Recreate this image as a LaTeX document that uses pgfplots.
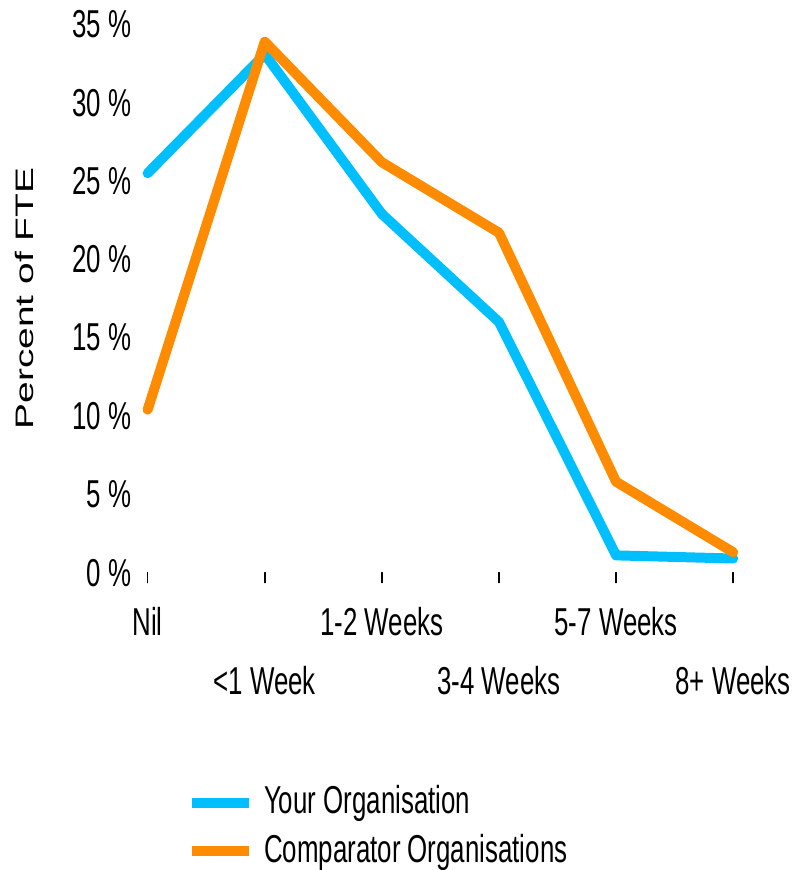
\documentclass[border=0pt]{standalone}
\usepackage{pgfplots}
\pgfplotsset{compat=1.18}
\usepackage{fontspec}
\setmainfont{Liberation Sans}[FakeStretch=0.665]
\newfontfamily\ylabfont{Liberation Sans}
\definecolor{yourorg}{RGB}{0,191,255}
\definecolor{comporg}{RGB}{255,140,0}
\begin{document}
\fontsize{39}{47}\selectfont
\begin{tikzpicture}
	\begin{axis}[
		name=ax,
		scale only axis,
		width=587pt, height=549.5pt,
		xmin=0, xmax=5, ymin=0, ymax=35,
		clip=false,
		axis line style={draw=none},
		xtick={0,2,4},
		xticklabels={Nil,1-2 Weeks,5-7 Weeks},
		extra x ticks={1,3,5},
		extra x tick labels={<1 Week,3-4 Weeks,8+ Weeks},
		extra x tick style={xticklabel style={yshift=-59pt}},
		xtick pos=bottom,
		tick align=outside,
		major tick length=10pt,
		x tick style={black, line width=1.5pt},
		xticklabel style={inner sep=0pt, anchor=north, yshift=-24.5pt},
		ytick={0,5,...,35},
		yticklabels={0 \%,5 \%,10 \%,15 \%,20 \%,25 \%,30 \%,35 \%},
		y tick style={draw=none},
		ytick pos=left,
		yticklabel style={inner sep=0pt, anchor=east, xshift=-6pt},
		ylabel={\scalebox{1}[0.65]{\ylabfont Percent of FTE}},
		ylabel style={at={(axis description cs:-0.2095,0.5)}, anchor=center},
		legend style={at={(rel axis cs:0,0)}, anchor=north west, xshift=39.5pt, yshift=-211.4pt,
			draw=none, fill=none, inner sep=0pt, row sep=10.3pt, column sep=8pt,
			nodes={inner sep=2pt, anchor=west}},
		legend cell align=left,
		legend image code/.code={\draw[#1, line width=10pt, line cap=butt] (0pt,0pt) -- (57pt,0pt);},
		line join=round,
		line cap=round,
	]
		\addplot[yourorg, line width=10pt] coordinates {(0,25.5) (1,33.1) (2,22.9) (3,16.0) (4,1.1) (5,0.9)};
		\addplot[comporg, line width=10pt] coordinates {(0,10.4) (1,33.9) (2,26.2) (3,21.7) (4,5.8) (5,1.3)};
		\legend{Your Organisation, Comparator Organisations}
	\end{axis}
	\path ([xshift=-148pt, yshift=-296pt]ax.south west) ([xshift=61pt, yshift=24.5pt]ax.north east);
\end{tikzpicture}
\end{document}
